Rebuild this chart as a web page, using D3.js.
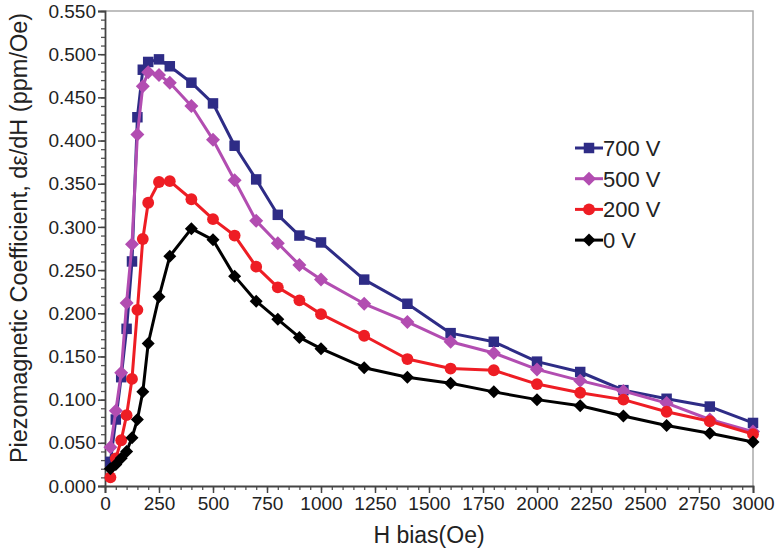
<!DOCTYPE html>
<html>
<meta charset="utf-8">
<script src="https://cdn.jsdelivr.net/npm/d3@7"></script>
<style>
  body { margin: 0; background: #fff; }
  text { font-family: "Liberation Sans", Arial, sans-serif; fill: #222; }
</style>
<body>
<div id="plot_area"></div>
</body>
<script>

// H bias (Oe)
var hBias = [25, 50, 75, 100, 125, 150, 175, 200, 250, 300, 400, 500, 600, 700, 800, 900, 1000,
             1200, 1400, 1600, 1800, 2000, 2200, 2400, 2600, 2800, 3000];

// piezomagnetic coefficient (ppm/Oe) per applied voltage
var v700 = [0.028, 0.077, 0.126, 0.182, 0.260, 0.427, 0.482, 0.491, 0.494, 0.486, 0.467, 0.443, 0.394, 0.355, 0.314, 0.290, 0.282,
            0.239, 0.211, 0.177, 0.167, 0.144, 0.132, 0.111, 0.101, 0.092, 0.073];
var v500 = [0.045, 0.087, 0.131, 0.212, 0.280, 0.407, 0.463, 0.479, 0.476, 0.467, 0.440, 0.401, 0.354, 0.307, 0.281, 0.256, 0.239,
            0.211, 0.190, 0.167, 0.154, 0.135, 0.122, 0.110, 0.096, 0.077, 0.063];
var v200 = [0.010, 0.032, 0.053, 0.082, 0.124, 0.204, 0.286, 0.328, 0.352, 0.353, 0.332, 0.309, 0.290, 0.254, 0.230, 0.215, 0.199,
            0.174, 0.147, 0.136, 0.134, 0.118, 0.108, 0.100, 0.086, 0.075, 0.060];
var v0   = [0.020, 0.025, 0.032, 0.040, 0.056, 0.077, 0.109, 0.165, 0.219, 0.266, 0.298, 0.285, 0.243, 0.214, 0.193, 0.172, 0.159,
            0.137, 0.126, 0.119, 0.109, 0.100, 0.093, 0.081, 0.070, 0.061, 0.051];

var seriesNames = ["700 V", "500 V", "200 V", "0 V"];
var seriesValues = [v700, v500, v200, v0];
var seriesColors = ["#2e2c86", "#b24db1", "#ee1d24", "#000000"];
var seriesMarkers = ["square", "diamond", "circle", "diamondSmall"];

var xTicks = d3.range(0, 3001, 250);
var yTicks = d3.range(0, 0.5501, 0.05);

var W = 776, H = 552;
var margin = {top: 11, right: 23, bottom: 66, left: 105},
    width = W - margin.left - margin.right,
    height = H - margin.top - margin.bottom;

var svg = d3.select("#plot_area")
  .append("svg")
    .attr("width", W)
    .attr("height", H);

var g = svg.append("g")
    .attr("transform", "translate(" + margin.left + "," + margin.top + ")");

var x = d3.scaleLinear().domain([0, 3000]).range([0, width]);
var y = d3.scaleLinear().domain([0, 0.55]).range([height, 0]);

// frame (top / right in light gray)
g.append("path")
  .attr("d", "M0,0H" + width + "V" + height)
  .attr("fill", "none")
  .attr("stroke", "#aaa")
  .attr("stroke-width", 1.5);

// minor ticks
g.append("g")
  .attr("transform", "translate(0," + height + ")")
  .call(d3.axisBottom(x).tickValues(d3.range(0, 3001, 50)).tickSize(4).tickFormat(""))
  .call(function(a) { a.select(".domain").remove(); a.selectAll("line").attr("stroke", "#555").attr("stroke-width", 1.3); });
g.append("g")
  .call(d3.axisLeft(y).tickValues(d3.range(0, 0.5501, 0.01)).tickSize(4).tickFormat(""))
  .call(function(a) { a.select(".domain").remove(); a.selectAll("line").attr("stroke", "#555").attr("stroke-width", 1.3); });

// major ticks + labels
var xAxis = g.append("g")
  .attr("transform", "translate(0," + height + ")")
  .call(d3.axisBottom(x).tickValues(xTicks).tickSize(7).tickPadding(4).tickFormat(d3.format("d")));
var yAxis = g.append("g")
  .call(d3.axisLeft(y).tickValues(yTicks).tickSize(7).tickPadding(2).tickFormat(d3.format(".3f")));

[xAxis, yAxis].forEach(function(a) {
  a.select(".domain").attr("stroke", "#444").attr("stroke-width", 1.8);
  a.selectAll("line").attr("stroke", "#444").attr("stroke-width", 1.5);
  a.selectAll("text").style("font-size", "19px").attr("fill", "#222").style("font-family", "Liberation Sans, Arial, sans-serif");
});

// axis titles
svg.append("text")
  .attr("x", margin.left + width / 2)
  .attr("y", 543)
  .attr("text-anchor", "middle")
  .style("font-size", "23px")
  .text("H bias(Oe)");

svg.append("text")
  .attr("transform", "translate(27,238) rotate(-90)")
  .attr("text-anchor", "middle")
  .style("font-size", "23.5px")
  .text("Piezomagnetic Coefficient, dε/dH (ppm/Oe)");

function diamond(r) {
  return "M0," + (-r) + "L" + r + ",0L0," + r + "L" + (-r) + ",0Z";
}

function markerPath(kind) {
  if (kind === "square") return d3.symbol().type(d3.symbolSquare).size(110)();
  if (kind === "circle") return d3.symbol().type(d3.symbolCircle).size(110)();
  if (kind === "diamondSmall") return diamond(6.5);
  return diamond(7);
}

var line = d3.line()
  .x(function(d) { return x(d[0]); })
  .y(function(d) { return y(d[1]); });

seriesValues.forEach(function(vals, i) {
  var pts = hBias.map(function(h, j) { return [h, vals[j]]; });
  var s = g.append("g");
  s.append("path")
    .datum(pts)
    .attr("d", line)
    .attr("fill", "none")
    .attr("stroke", seriesColors[i])
    .attr("stroke-width", 3)
    .attr("stroke-linejoin", "round");
  s.selectAll("path.mk")
    .data(pts)
    .enter()
    .append("path")
      .attr("class", "mk")
      .attr("d", markerPath(seriesMarkers[i]))
      .attr("transform", function(d) { return "translate(" + x(d[0]) + "," + y(d[1]) + ")"; })
      .attr("fill", seriesColors[i]);
});

// legend
var legend = svg.append("g").attr("transform", "translate(575,148)");
seriesNames.forEach(function(name, i) {
  var row = legend.append("g").attr("transform", "translate(0," + (i * 30.7) + ")");
  row.append("line")
    .attr("x1", 0).attr("x2", 28)
    .attr("stroke", seriesColors[i])
    .attr("stroke-width", 3);
  row.append("path")
    .attr("d", markerPath(seriesMarkers[i]))
    .attr("transform", "translate(14,0)")
    .attr("fill", seriesColors[i]);
  row.append("text")
    .attr("x", 28)
    .attr("y", 8)
    .style("font-size", "22px")
    .text(name);
});

</script>
</html>
